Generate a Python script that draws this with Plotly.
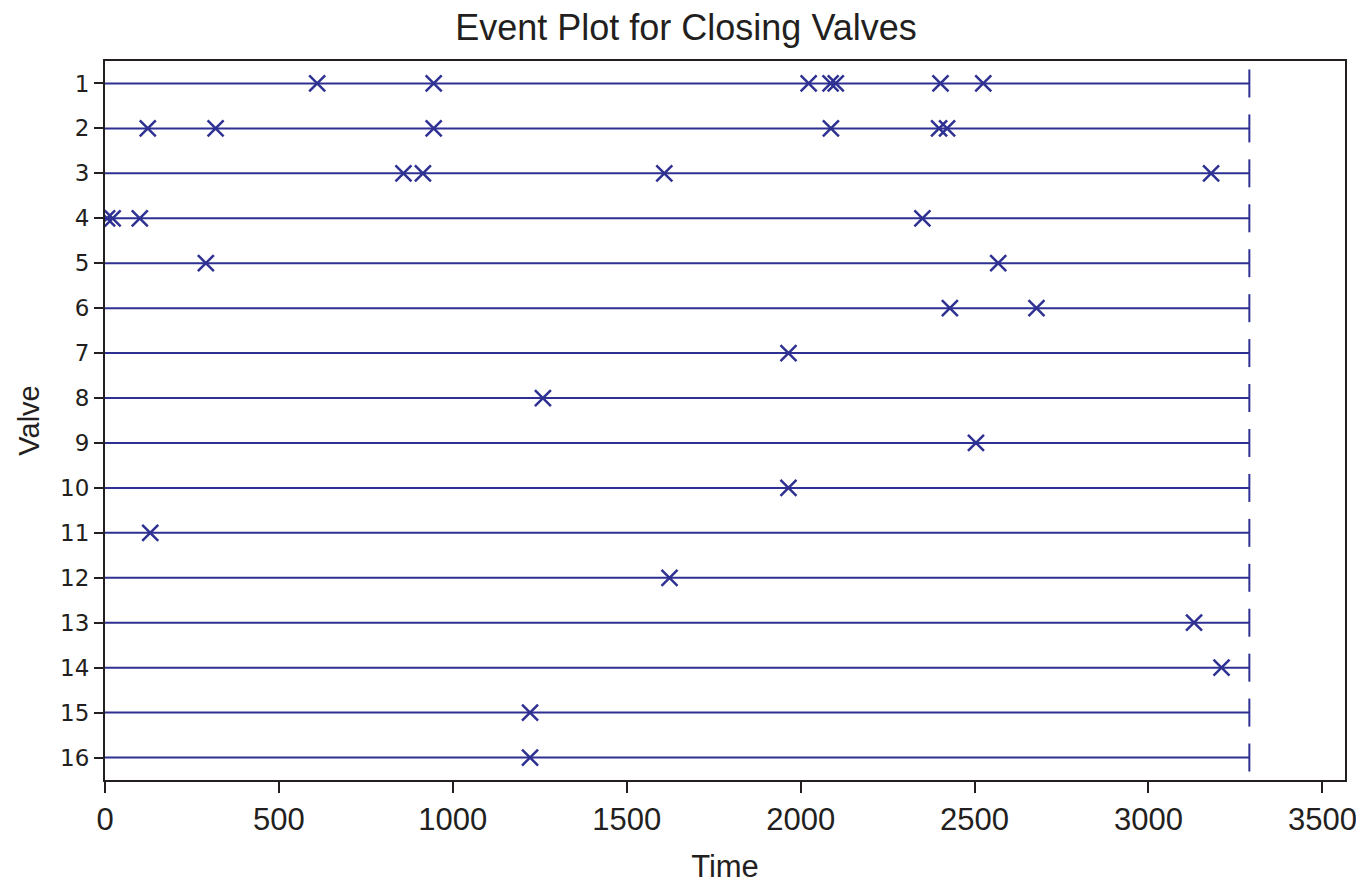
import plotly.graph_objects as go

# Event times (closing) per valve
valve_ids = list(range(1, 17))
v1 = [610, 945, 2023, 2086, 2101, 2402, 2525]
v2 = [123, 318, 945, 2087, 2398, 2421]
v3 = [858, 914, 1608, 3180]
v4 = [6, 22, 100, 2350]
v5 = [290, 2568]
v6 = [2429, 2678]
v7 = [1965]
v8 = [1259]
v9 = [2504]
v10 = [1965]
v11 = [130]
v12 = [1623]
v13 = [3131]
v14 = [3210]
v15 = [1222]
v16 = [1222]
start_time = 0
end_time = 3290
x_ticks = [0, 500, 1000, 1500, 2000, 2500, 3000, 3500]

all_events = [v1, v2, v3, v4, v5, v6, v7, v8, v9, v10, v11, v12, v13, v14, v15, v16]

COL = "#2E3192"
INK = "#231F20"
fig = go.Figure()

for vid, ev in zip(valve_ids, all_events):
    fig.add_trace(go.Scatter(x=[start_time, end_time], y=[vid, vid], mode="lines",
                             line=dict(color=COL, width=2), hoverinfo="skip", showlegend=False))
    fig.add_trace(go.Scatter(x=[end_time], y=[vid], mode="markers",
                             marker=dict(symbol="line-ns-open", size=20, color=COL,
                                         line=dict(color=COL, width=2)),
                             showlegend=False))
    fig.add_trace(go.Scatter(x=ev, y=[vid] * len(ev), mode="markers",
                             marker=dict(symbol="x-thin-open", size=16, color=COL,
                                         line=dict(color=COL, width=2.5)),
                             showlegend=False))

narrow = "Liberation Sans, Arial"

fig.update_layout(
    width=1356, height=876,
    margin=dict(l=97, r=19, t=53, b=104),
    paper_bgcolor="white", plot_bgcolor="white",
    title=dict(text="Event Plot for Closing Valves", x=0.5, xref="container", xanchor="center",
               y=0.978, yref="container", yanchor="middle",
               font=dict(family="Liberation Sans, Arial", size=36, color=INK)),
    xaxis=dict(range=[0, 3565], tickvals=x_ticks, ticktext=[str(t) for t in x_ticks],
               automargin=False,
               showgrid=False, zeroline=False, showline=True, linecolor=INK, linewidth=2,
               mirror=True, ticks="outside", ticklen=11, tickwidth=2, tickcolor=INK,
               tickfont=dict(family=narrow, size=31, color=INK),
               title=dict(text="Time", font=dict(family=narrow, size=31, color=INK), standoff=19)),
    yaxis=dict(range=[16.5, 0.5], tickvals=valve_ids, ticktext=[str(v) for v in valve_ids],
               automargin=False,
               showgrid=False, zeroline=False, showline=True, linecolor=INK, linewidth=2,
               mirror=True, ticks="outside", ticklen=9, tickwidth=2, tickcolor=INK,
               tickfont=dict(family="DejaVu Sans, Verdana", size=23, color=INK),
               title=dict(text="Valve", font=dict(family=narrow, size=29, color=INK), standoff=12)),
)

fig.write_html("out.html")
